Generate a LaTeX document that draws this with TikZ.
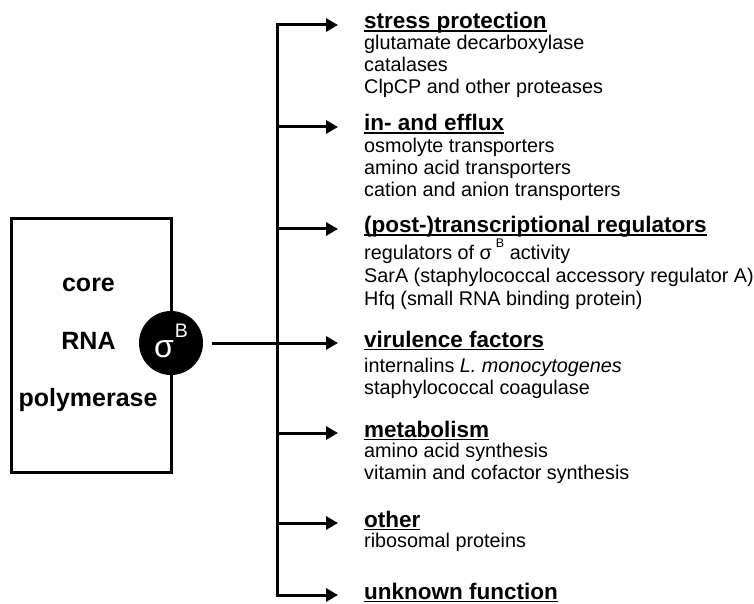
\documentclass[tikz,border=0pt]{standalone}
\usepackage{fontspec}
\setmainfont{Liberation Sans}
\usetikzlibrary{positioning, arrows.meta}

% underlined heading text
\newcommand{\ulhead}[1]{\setbox0=\hbox{#1}\rlap{\rule[-3.4pt]{\wd0}{1.9pt}}\box0}

\begin{document}
\begin{tikzpicture}[x=1pt, y=1pt]

\tikzset{
    link/.style={line width=3pt, -{Triangle[length=12pt, width=13pt]}},
    trunkline/.style={line width=3pt, line cap=rect},
    corebox/.style={draw, line width=3pt, minimum width=160pt, minimum height=253pt, inner sep=0pt},
    coretext/.style={font=\fontsize{25}{30}\selectfont\bfseries, inner sep=0pt, anchor=base},
    sigmadot/.style={circle, fill=black, minimum size=64pt, inner sep=0pt, text=white,
        text height=28pt, text depth=0pt},
    heading/.style={font=\fontsize{22.5}{26}\selectfont\bfseries, inner sep=0pt,
        text height=8pt, text depth=0pt, anchor=west},
    entry/.style={font=\fontsize{19.8}{22}\selectfont, inner sep=0pt, anchor=base west}
}

\useasboundingbox (0,0) rectangle (754,603);

%====================================================
% LEFT: holoenzyme
%====================================================
\node[corebox] (core) at (91,257.5) {};
\node[coretext] (wcore) at (88.5,312) {core};
\node[coretext] (wrna) at (88.5,254) {RNA};
\node[coretext] (wpol) at (88,197) {polymerase};

\node[sigmadot] (sig) at (171,260)
    {\fontsize{32}{32}\selectfont σ\hspace{1pt}\raisebox{20pt}{\fontsize{19.5}{20}\selectfont B}};

%====================================================
% RIGHT: regulon categories
%====================================================
\node[heading] (stress)  at (364,578) {\ulhead{stress protection}};
\node[heading] (flux)    at (364,476) {\ulhead{in- and efflux}};
\node[heading] (regul)   at (364,374) {\ulhead{(post-)transcriptional regulators}};
\node[heading] (viru)    at (364,260) {\ulhead{virulence factors}};
\node[heading] (metab)   at (364,170) {\ulhead{metabolism}};
\node[heading] (other)   at (364,80)  {\ulhead{other}};
\node[heading] (unknown) at (364,8)   {\ulhead{unknown function}};

% member lines under each heading
\foreach \txt [count=\k] in {glutamate decarboxylase, catalases, ClpCP and other proteases}
    \node[entry] (stress-\k) at ([yshift={-25pt-(\k-1)*22pt}]stress.west) {\txt};

\foreach \txt [count=\k] in {osmolyte transporters, amino acid transporters, cation and anion transporters}
    \node[entry] (flux-\k) at ([yshift={-26pt-(\k-1)*22pt}]flux.west) {\txt};

\foreach \txt [count=\k] in {
    regulators of σ\hspace{4pt}\raisebox{12pt}{\fontsize{12.5}{13}\selectfont B} activity,
    SarA (staphylococcal accessory regulator A),
    Hfq (small RNA binding protein)}
    \node[entry] (regul-\k) at ([yshift={-31pt-(\k-1)*22.5pt}]regul.west) {\txt};

\foreach \txt [count=\k] in {internalins \textit{L. monocytogenes}, staphylococcal coagulase}
    \node[entry] (viru-\k) at ([yshift={-29pt-(\k-1)*22pt}]viru.west) {\txt};

\foreach \txt [count=\k] in {amino acid synthesis, vitamin and cofactor synthesis}
    \node[entry] (metab-\k) at ([yshift={-24pt-(\k-1)*22.5pt}]metab.west) {\txt};

\node[entry] (other-1) at ([yshift=-24pt]other.west) {ribosomal proteins};

%====================================================
% CONNECTORS
%====================================================
\coordinate (fork) at (277,260);

\draw[trunkline] (fork |- stress.west) -- (fork |- unknown.west);

\foreach \h in {stress, flux, regul, metab, other, unknown}{
    \draw[link] (fork |- \h.west) -- ([xshift=-26pt]\h.west);
}

\draw[link] ([xshift=9pt]sig.east) -- ([xshift=-26pt]viru.west);

\end{tikzpicture}
\end{document}
